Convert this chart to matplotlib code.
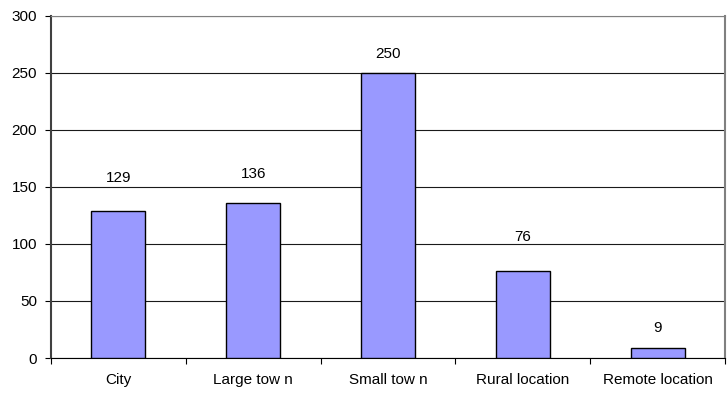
import matplotlib.pyplot as plt

categories = ["City", "Large tow n", "Small tow n", "Rural location", "Remote location"]
counts = [129, 136, 250, 76, 9]
# vertical gap between bar top and its value label (points)
label_gaps = [24, 21, 14, 25, 14]

plt.rcParams['font.family'] = ['Liberation Sans', 'DejaVu Sans']


def show_counts():
    fig = plt.figure(figsize=(7.27, 3.94), dpi=100)
    ax = fig.add_axes([51 / 727, 1 - 358 / 394, 674 / 727, 342 / 394])

    x = range(len(categories))
    ax.bar(x, counts, width=0.4, color="#9999FF", edgecolor="#000000",
           linewidth=1.0, zorder=3)

    for i, (v, gap) in enumerate(zip(counts, label_gaps)):
        ax.annotate(str(v), (i, v), xytext=(0, gap), textcoords="offset points",
                    ha="center", va="center", fontsize=11)

    # Style
    ax.set_xlim(-0.5, len(categories) - 0.5)
    ax.set_ylim(0, 300)
    ax.set_yticks(range(0, 301, 50))
    ax.yaxis.grid(True, color="#1a1a1a", linewidth=0.8, zorder=0)
    ax.set_xticks([i - 0.5 for i in range(len(categories) + 1)])
    ax.set_xticklabels([])
    ax.set_xticks(list(x), minor=True)
    ax.set_xticklabels(categories, minor=True)
    ax.tick_params(axis="x", which="minor", length=0, pad=11, labelsize=11)
    ax.tick_params(axis="x", which="major", length=4, color="#000000")
    ax.tick_params(axis="y", length=4, pad=6, labelsize=11)

    ax.spines["top"].set_color("#808080")
    ax.spines["right"].set_color("#808080")
    ax.spines["right"].set_linewidth(1.5)
    ax.spines["left"].set_color("#404040")
    ax.spines["left"].set_linewidth(1.5)
    ax.spines["bottom"].set_color("#000000")

    fig.savefig("out.png", dpi=100)


if __name__ == '__main__':
    show_counts()
